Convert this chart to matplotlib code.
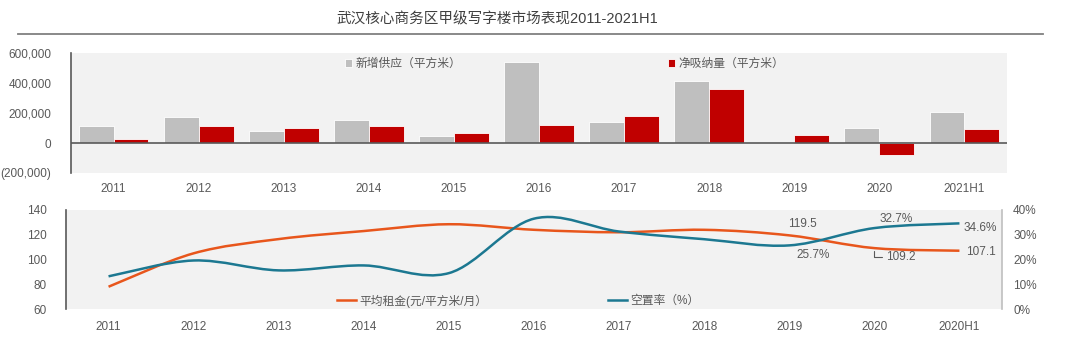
import numpy as np
import matplotlib.pyplot as plt
from matplotlib.path import Path
from matplotlib.patches import PathPatch, Patch
from matplotlib.lines import Line2D
from matplotlib.ticker import FuncFormatter, PercentFormatter

plt.rcParams['font.family'] = ['Liberation Sans', 'Noto Sans CJK SC', 'DejaVu Sans']

# 供应与吸纳
years_top = ['2011', '2012', '2013', '2014', '2015', '2016', '2017', '2018', '2019', '2020', '2021H1']
new_supply = [111000, 173000, 80000, 156000, 47000, 540000, 142000, 416000, 0, 98000, 204000]
net_absorb = [29000, 111000, 102000, 111000, 67000, 120000, 180000, 358000, 51000, -82000, 93000]

# 租金与空置率
years_bot = ['2011', '2012', '2013', '2014', '2015', '2016', '2017', '2018', '2019', '2020', '2020H1']
rent = [78, 105, 116.5, 123, 128.5, 124, 122, 124, 119.5, 109.2, 107.1]
vacancy = [0.132, 0.196, 0.156, 0.176, 0.145, 0.365, 0.313, 0.282, 0.257, 0.327, 0.346]

GREY_TXT = '#595959'
BG = '#f2f2f2'


def smooth_path(xs, ys):
    # Catmull-Rom 转三次贝塞尔，模拟 Excel 平滑线
    p = np.column_stack([xs, ys]).astype(float)
    ext = np.vstack([p[0], p, p[-1]])
    verts = [p[0]]
    codes = [Path.MOVETO]
    for i in range(len(p) - 1):
        p0, p1, p2, p3 = ext[i], ext[i + 1], ext[i + 2], ext[i + 3]
        verts += [p1 + (p2 - p0) / 6, p2 - (p3 - p1) / 6, p2]
        codes += [Path.CURVE4] * 3
    return Path(verts, codes)


fig = plt.figure(figsize=(10.83, 3.37), dpi=100)

fig.text(0.459, 0.944, '武汉核心商务区甲级写字楼市场表现2011-2021H1', ha='center', va='center',
         fontsize=10.5, color='#404040')
fig.add_artist(Line2D([18 / 1083, 1043 / 1083], [1 - 34 / 337] * 2, color='#808080', lw=1.3))

# ---- 上图：柱状 ----
ax1 = fig.add_axes([71 / 1083, 1 - 173 / 337, 936 / 1083, 120 / 337])
ax1.set_facecolor(BG)
x = np.arange(len(years_top))
w = 0.41
b1 = ax1.bar(x - w / 2, new_supply, w, color='#bfbfbf', edgecolor='white', linewidth=0.6,
             label='新增供应（平方米）')
b2 = ax1.bar(x + w / 2, net_absorb, w, color='#c00000', edgecolor='white', linewidth=0.6,
             label='净吸纳量（平方米）')
ax1.axhline(0, color='#595959', lw=1.2)
ax1.set_xlim(-0.5, len(x) - 0.5)
ax1.set_ylim(-200000, 600000)
ax1.set_yticks(np.arange(-200000, 600001, 200000))
ax1.yaxis.set_major_formatter(FuncFormatter(
    lambda v, _: f'({abs(v):,.0f})' if v < 0 else f'{v:,.0f}'))
ax1.set_xticks(x)
ax1.set_xticklabels(years_top)
ax1.tick_params(axis='both', length=0, labelsize=8.5, colors=GREY_TXT)
ax1.tick_params(axis='y', pad=14)
ax1.tick_params(axis='x', pad=7)
for s in ['top', 'right', 'bottom']:
    ax1.spines[s].set_visible(False)
ax1.spines['left'].set_color('#595959')
ax1.spines['left'].set_linewidth(1.2)

leg1 = ax1.legend(handles=[b1], loc='center left', bbox_to_anchor=(0.293, 0.908), frameon=False,
                  handlelength=0.6, handleheight=0.6, handletextpad=0.3, borderpad=0,
                  borderaxespad=0, fontsize=8.5, labelcolor=GREY_TXT)
ax1.add_artist(leg1)
ax1.legend(handles=[b2], loc='center left', bbox_to_anchor=(0.638, 0.908), frameon=False,
           handlelength=0.6, handleheight=0.6, handletextpad=0.3, borderpad=0,
           borderaxespad=0, fontsize=8.5, labelcolor=GREY_TXT)

# ---- 下图：租金与空置率 ----
ax2 = fig.add_axes([66 / 1083, 1 - 309 / 337, 936 / 1083, 99 / 337])
ax2.set_facecolor(BG)
ax2r = ax2.twinx()
xb = np.arange(len(years_bot))
rent_color = '#e8561c'
vac_color = '#1c7891'
ax2.add_patch(PathPatch(smooth_path(xb, rent), fill=False, edgecolor=rent_color, lw=1.8))
ax2r.add_patch(PathPatch(smooth_path(xb, vacancy), fill=False, edgecolor=vac_color, lw=1.8))

ax2.set_xlim(-0.5, len(xb) - 0.5)
ax2.set_ylim(60, 140)
ax2.set_yticks(np.arange(60, 141, 20))
ax2r.set_ylim(0, 0.4)
ax2r.set_yticks(np.arange(0, 0.41, 0.1))
ax2r.yaxis.set_major_formatter(PercentFormatter(1.0, decimals=0))
ax2.set_xticks(xb)
ax2.set_xticklabels(years_bot)
ax2.tick_params(axis='both', length=0, labelsize=8.5, colors=GREY_TXT)
ax2.tick_params(axis='y', pad=14)
ax2.tick_params(axis='x', pad=9)
ax2r.tick_params(axis='y', length=0, labelsize=8.5, colors=GREY_TXT, pad=8)
for a in (ax2, ax2r):
    for s in ['top', 'bottom']:
        a.spines[s].set_visible(False)
ax2.spines['right'].set_visible(False)
ax2r.spines['left'].set_visible(False)
ax2.spines['left'].set_color('#595959')
ax2.spines['left'].set_linewidth(1.2)
ax2r.spines['right'].set_color('#bfbfbf')
ax2r.spines['right'].set_linewidth(1.2)

h_rent = Line2D([], [], color=rent_color, lw=1.8, label='平均租金(元/平方米/月）')
h_vac = Line2D([], [], color=vac_color, lw=1.8, label='空置率（%）')
leg2 = ax2r.legend(handles=[h_rent], loc='center left', bbox_to_anchor=(0.2895, 0.081),
                   frameon=False, handlelength=1.6, handletextpad=0.3, borderpad=0,
                   borderaxespad=0, fontsize=8.5, labelcolor=GREY_TXT)
ax2r.add_artist(leg2)
ax2r.legend(handles=[h_vac], loc='center left', bbox_to_anchor=(0.579, 0.081),
            frameon=False, handlelength=1.6, handletextpad=0.3, borderpad=0,
            borderaxespad=0, fontsize=8.5, labelcolor=GREY_TXT)

# 数据标签
lbl = dict(textcoords='offset pixels', fontsize=8.5, color=GREY_TXT, va='center')
ax2.annotate(f'{rent[8]:.1f}', xy=(8, rent[8]), xytext=(13, 11), ha='center', **lbl)
ax2r.annotate(f'{vacancy[8]:.1%}', xy=(8, vacancy[8]), xytext=(24, -10), ha='center', **lbl)
ax2r.annotate(f'{vacancy[9]:.1%}', xy=(9, vacancy[9]), xytext=(22, 9), ha='center', **lbl)
ax2.annotate(f'{rent[9]:.1f}', xy=(9, rent[9]), xytext=(12, -9), ha='left', **lbl,
             arrowprops=dict(arrowstyle='-', color=GREY_TXT, lw=0.8, relpos=(0, 0.5),
                             connectionstyle='angle,angleA=0,angleB=90,rad=0',
                             shrinkA=1, shrinkB=2))
ax2r.annotate(f'{vacancy[10]:.1%}', xy=(10, vacancy[10]), xytext=(4, -5), ha='left', **lbl)
ax2.annotate(f'{rent[10]:.1f}', xy=(10, rent[10]), xytext=(7, -1), ha='left', **lbl)

fig.savefig('out.png', dpi=100)
